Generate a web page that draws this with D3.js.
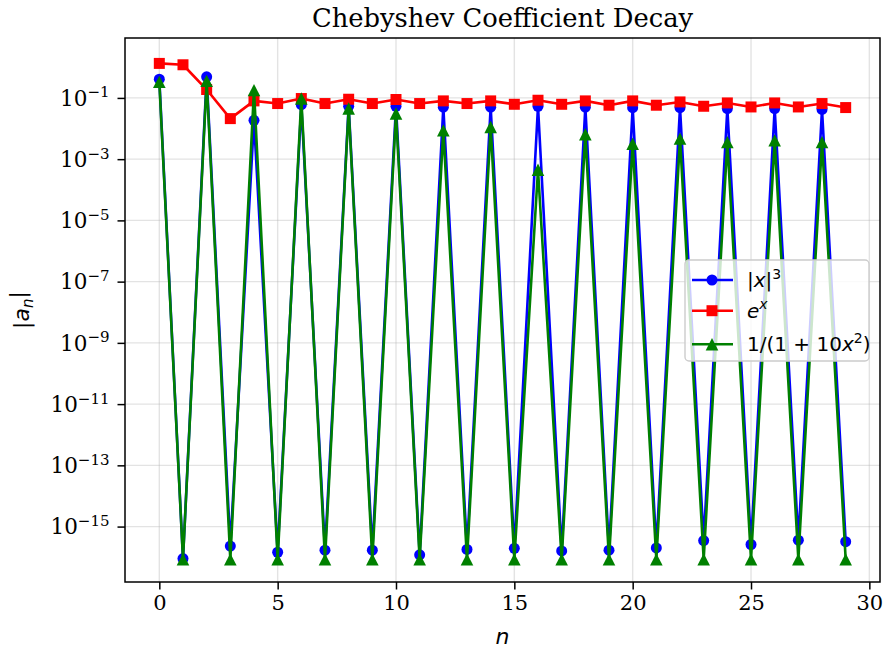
<!DOCTYPE html>
<html>
<head>
<meta charset="utf-8">
<script src="https://cdn.jsdelivr.net/npm/d3@7"></script>
<style>
  body { margin: 0; background: #fff; }
  svg { display: block; }
</style>
</head>
<body>
<svg id="canvas" width="885" height="654"></svg>
<script>
// coefficient index
const n = d3.range(30);

// |a_n|
const absCube = [0.41, 9e-17, 0.489, 2.3e-16, 0.0186, 1.45e-16, 0.06, 1.7e-16, 0.053, 1.7e-16,
  0.053, 1.2e-16, 0.05, 1.8e-16, 0.05, 1.95e-16, 0.053, 1.6e-16, 0.05, 1.7e-16,
  0.048, 2.0e-16, 0.048, 3.5e-16, 0.045, 2.6e-16, 0.045, 3.6e-16, 0.042, 3.2e-16];
const expX = [1.34, 1.21, 0.188, 0.0211, 0.08, 0.0655, 0.0955, 0.0655, 0.0906, 0.0655,
  0.0887, 0.0655, 0.08, 0.0655, 0.08, 0.062, 0.084, 0.062, 0.08, 0.0577,
  0.08, 0.0577, 0.074, 0.0534, 0.0686, 0.0507, 0.0686, 0.0507, 0.0655, 0.0484];
const runge = [0.335, 8.5e-17, 0.36, 8.5e-17, 0.18, 8.5e-17, 0.096, 8.5e-17, 0.045, 8.5e-17,
  0.031, 8.5e-17, 0.0087, 8.5e-17, 0.0112, 8.5e-17, 4.5e-4, 8.5e-17, 0.0065, 8.5e-17,
  0.0032, 8.5e-17, 0.0047, 8.5e-17, 0.0036, 8.5e-17, 0.0041, 8.5e-17, 0.0036, 8.5e-17];

const xTicks = [0, 5, 10, 15, 20, 25, 30];
const yExps = [-15, -13, -11, -9, -7, -5, -3, -1];

const series = [
  { name: "cube", values: absCube, color: "#0000ff", marker: "circle" },
  { name: "exp", values: expX, color: "#ff0000", marker: "square" },
  { name: "runge", values: runge, color: "#008000", marker: "triangle" },
];

const plotL = 125, plotR = 880, plotT = 38, plotB = 582;
const svg = d3.select("#canvas");

const x = d3.scaleLinear().domain([-1.45, 30.45]).range([plotL, plotR]);
const y = d3.scaleLog().domain([Math.pow(10, -16.81), Math.pow(10, 0.957)]).range([plotB, plotT]);

// grid
svg.append("g")
  .selectAll("line")
  .data(xTicks)
  .enter()
  .append("line")
  .attr("x1", (d) => x(d)).attr("x2", (d) => x(d))
  .attr("y1", plotT).attr("y2", plotB)
  .attr("stroke", "#b0b0b0").attr("stroke-opacity", 0.35).attr("stroke-width", 1.4);
svg.append("g")
  .selectAll("line")
  .data(yExps)
  .enter()
  .append("line")
  .attr("y1", (d) => y(Math.pow(10, d))).attr("y2", (d) => y(Math.pow(10, d)))
  .attr("x1", plotL).attr("x2", plotR)
  .attr("stroke", "#b0b0b0").attr("stroke-opacity", 0.35).attr("stroke-width", 1.4);

// axes
const xAxis = svg.append("g")
  .attr("transform", `translate(0,${plotB})`)
  .call(d3.axisBottom(x).tickValues(xTicks).tickSize(7.5).tickPadding(6).tickFormat(d3.format("d")));
xAxis.select(".domain").remove();
xAxis.selectAll("line").attr("stroke-width", 1.5);
xAxis.selectAll("text").attr("font-family", "DejaVu Serif").attr("font-size", 21).attr("fill", "#000");

const yAxis = svg.append("g")
  .attr("transform", `translate(${plotL},0)`)
  .call(d3.axisLeft(y).tickValues(yExps.map((e) => Math.pow(10, e))).tickSize(7.5).tickPadding(6).tickFormat(""));
yAxis.select(".domain").remove();
yAxis.selectAll("line").attr("stroke-width", 1.5);
yAxis.selectAll(".tick")
  .append("text")
  .attr("x", -15.5)
  .attr("dy", "0.34em")
  .attr("text-anchor", "end")
  .attr("font-family", "DejaVu Serif")
  .attr("font-size", 21.5)
  .attr("fill", "#000")
  .each(function (d) {
    const t = d3.select(this);
    const e = Math.round(Math.log10(d));
    t.append("tspan").text("10");
    t.append("tspan").attr("font-size", 15).attr("dy", "-0.55em").text("\u2212" + Math.abs(e));
  });

// lines and markers
const line = d3.line().x((d, i) => x(n[i])).y((d) => y(d));
const markerPath = {
  circle: d3.symbol().type(d3.symbolCircle).size(Math.PI * 5.5 * 5.5),
  square: () => "M-5.5,-5.5H5.5V5.5H-5.5Z",
  triangle: () => "M0,-6.2L6.3,6.2H-6.3Z",
};

series.forEach((s) => {
  const g = svg.append("g");
  g.append("path")
    .datum(s.values)
    .attr("d", line)
    .attr("fill", "none")
    .attr("stroke", s.color)
    .attr("stroke-width", 2.6)
    .attr("stroke-linejoin", "round");
  g.selectAll("path.mark")
    .data(s.values)
    .enter()
    .append("path")
    .attr("class", "mark")
    .attr("d", markerPath[s.marker])
    .attr("transform", (d, i) => `translate(${x(n[i])},${y(d)})`)
    .attr("fill", s.color);
});

// frame
svg.append("rect")
  .attr("x", plotL).attr("y", plotT)
  .attr("width", plotR - plotL).attr("height", plotB - plotT)
  .attr("fill", "none").attr("stroke", "#000").attr("stroke-width", 1.5);

// title and labels
svg.append("text")
  .attr("x", (plotL + plotR) / 2).attr("y", 27)
  .attr("text-anchor", "middle")
  .attr("font-family", "DejaVu Serif").attr("font-size", 25.8)
  .text("Chebyshev Coefficient Decay");

svg.append("text")
  .attr("x", (plotL + plotR) / 2).attr("y", 644)
  .attr("text-anchor", "middle")
  .attr("font-family", "DejaVu Sans").attr("font-style", "italic").attr("font-size", 22)
  .text("n");

const yl = svg.append("text")
  .attr("transform", "translate(29,310) rotate(-90)")
  .attr("text-anchor", "middle")
  .attr("font-family", "DejaVu Sans").attr("font-size", 22);
yl.append("tspan").text("|");
yl.append("tspan").attr("font-style", "italic").text("a");
yl.append("tspan").attr("font-style", "italic").attr("font-size", 15).attr("dy", "0.25em").text("n");
yl.append("tspan").attr("dy", "-0.35em").text("|");

// legend
const lg = svg.append("g").attr("transform", "translate(685,260)");
lg.append("rect")
  .attr("width", 184).attr("height", 101).attr("rx", 4)
  .attr("fill", "#fff").attr("fill-opacity", 0.8)
  .attr("stroke", "#cccccc").attr("stroke-width", 1.4);

const legendText = [
  [["|", null], ["x", "i"], ["|", null], ["3", "sup"]],
  [["e", "i"], ["x", "isup"]],
  [["1/(1 + 10", null], ["x", "i"], ["2", "sup"], [")", "back"]],
];
const rowY = [20, 50.7, 84.3];

series.forEach((s, k) => {
  const row = lg.append("g").attr("transform", `translate(0,${rowY[k]})`);
  row.append("line")
    .attr("x1", 7).attr("x2", 48)
    .attr("stroke", s.color).attr("stroke-width", 2.6);
  row.append("path")
    .attr("d", markerPath[s.marker])
    .attr("transform", "translate(27,0)")
    .attr("fill", s.color);
  const t = row.append("text")
    .attr("x", 62).attr("y", 7)
    .attr("font-family", "DejaVu Sans").attr("font-size", 20);
  legendText[k].forEach(([str, style]) => {
    const sp = t.append("tspan").text(str);
    if (style === "i") sp.attr("font-style", "italic");
    if (style === "sup") sp.attr("font-size", 14).attr("dy", "-0.6em");
    if (style === "isup") sp.attr("font-size", 14).attr("dy", "-0.6em").attr("font-style", "italic");
    if (style === "back") sp.attr("dy", "0.42em");
  });
});
</script>
</body>
</html>
